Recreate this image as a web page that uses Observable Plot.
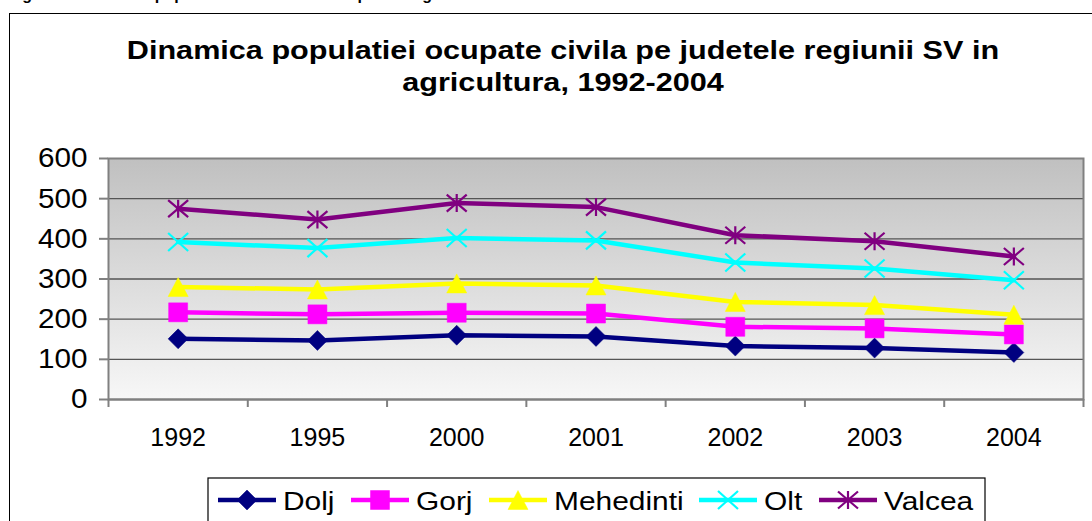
<!DOCTYPE html>
<html><head><meta charset="utf-8">
<script src="https://cdn.jsdelivr.net/npm/d3@7"></script>
<script src="https://cdn.jsdelivr.net/npm/@observablehq/plot@0.6"></script>
<style>
html,body{margin:0;padding:0;background:#fff}
body{width:1092px;height:521px;overflow:hidden;position:relative;font-family:"Liberation Sans",Arial,sans-serif}
#toptext{position:absolute;left:8px;top:-13px;font-weight:bold;font-size:16px;line-height:16px;white-space:nowrap;color:#000}
#frame{position:absolute;left:9px;top:13px;width:1110px;height:530px;border:1.5px solid #000;box-shadow:1px 1px 0 #a0a0a0}
#chart{position:absolute;left:0;top:0}
.abs{position:absolute;left:0;top:0}
</style></head>
<body>
<div id="toptext">Figura 3. Dinamica populatiei active civile ocupate in agricultura</div>
<div id="frame"></div>
<div id="chart"></div>
<svg id="titlesvg" class="abs" width="1092" height="110"></svg>
<svg id="legend" class="abs" width="1092" height="521" style="pointer-events:none"></svg>
<script>
// ---- data ----
const years = ["1992","1995","2000","2001","2002","2003","2004"];
const dolj = [151,147,160,157,133,128,117];
const gorj = [217,212,216,214,181,177,162];
const mehedinti = [280,274,289,284,243,235,211];
const olt = [392,377,402,396,341,326,297];
const valcea = [475,448,489,479,409,394,356];
const seriesNames = ["Dolj","Gorj","Mehedinti","Olt","Valcea"];
const seriesValues = [dolj,gorj,mehedinti,olt,valcea];
const seriesColors = ["#000080","#ff00ff","#ffff00","#00ffff","#800080"];
const yTicks = [0,100,200,300,400,500,600];
const titleLines = ["Dinamica populatiei ocupate civila pe judetele regiunii SV in","agricultura, 1992-2004"];

// ---- symbols ----
const symDiamond = {draw(c,s){const r=Math.sqrt(s/Math.PI);c.moveTo(0,-r);c.lineTo(r,0);c.lineTo(0,r);c.lineTo(-r,0);c.closePath();}};
const symSquare = {draw(c,s){const r=Math.sqrt(s/Math.PI)*0.95;c.moveTo(-r,-r);c.lineTo(r,-r);c.lineTo(r,r);c.lineTo(-r,r);c.closePath();}};
const symTriangle = {draw(c,s){const r=Math.sqrt(s/Math.PI);c.moveTo(0,-r*0.95);c.lineTo(r,r*0.95);c.lineTo(-r,r*0.95);c.closePath();}};
const symTimes = {draw(c,s){const r=Math.sqrt(s/Math.PI);c.moveTo(-r,-r*0.9);c.lineTo(r,r*0.9);c.moveTo(r,-r*0.9);c.lineTo(-r,r*0.9);}};
const symAst = {draw(c,s){const r=Math.sqrt(s/Math.PI);c.moveTo(-r,-r*0.85);c.lineTo(r,r*0.85);c.moveTo(r,-r*0.85);c.lineTo(-r,r*0.85);c.moveTo(0,-r*0.9);c.lineTo(0,r*0.9);}};
const symbols = [symDiamond,symSquare,symTriangle,symTimes,symAst];
const filled = [true,true,true,false,false];

// ---- long table ----
const table = [];
seriesNames.forEach((name,si)=>seriesValues[si].forEach((v,i)=>table.push({series:name,si,i,year:years[i],value:v})));

const boundaries = d3.range(years.length+1).map(k=>k-0.5);
const marks = [
  Plot.frame({fill:"url(#bgGrad)",stroke:"none"}),
  Plot.gridY(yTicks.filter(t=>t>0 && t<600),{stroke:"#555",strokeOpacity:1,strokeWidth:1.4}),
  Plot.frame({stroke:"#808080",strokeWidth:2,fill:"none"}),
  Plot.ruleY([0],{stroke:"#808080",strokeWidth:2}),
  Plot.axisY({ticks:yTicks,tickSize:9,tickPadding:12,fontSize:28,stroke:"#808080",strokeWidth:2,color:"#000",label:null}),
  Plot.axisX({ticks:d3.range(years.length),tickFormat:i=>years[i],tickSize:0,tickPadding:29,fontSize:25,label:null}),
  Plot.axisX({ticks:boundaries,tickFormat:()=>"",tickSize:8,stroke:"#808080",strokeWidth:2,label:null})
];
seriesNames.forEach((name,si)=>{
  const d = table.filter(r=>r.si===si);
  marks.push(Plot.line(d,{x:"i",y:"value",stroke:seriesColors[si],strokeWidth:4.5}));
  marks.push(Plot.dot(d,{x:"i",y:"value",symbol:symbols[si],r:10,
    fill: filled[si]?seriesColors[si]:"none",
    stroke: seriesColors[si], strokeWidth: filled[si]?0.5:2.2}));
});

const chart = Plot.plot({
  width:1092, height:470,
  marginLeft:108, marginRight:9, marginTop:158, marginBottom:71,
  x:{type:"linear",domain:[-0.5,years.length-0.5]},
  y:{domain:[0,600]},
  style:{background:"transparent",fontFamily:"'Liberation Sans',Arial,sans-serif",overflow:"visible"},
  marks
});
document.getElementById("chart").appendChild(chart);
const svgns="http://www.w3.org/2000/svg";
const defs=document.createElementNS(svgns,"defs");
defs.innerHTML='<linearGradient id="bgGrad" x1="0" y1="0" x2="0" y2="1"><stop offset="0" stop-color="#c0c0c0"/><stop offset="1" stop-color="#f7f7f7"/></linearGradient>';
chart.insertBefore(defs,chart.firstChild);

// horizontal stretch helper (the reference's lettering is wider than the installed Arial metric clone)
function stretch(sel, k){
  sel.each(function(){const w=this.getComputedTextLength(); if(w>0){this.setAttribute("textLength",w*k);this.setAttribute("lengthAdjust","spacingAndGlyphs");}});
}
stretch(d3.select(chart).selectAll('g[aria-label="y-axis tick label"] text'),1.06);

// ---- title ----
const tsvg = d3.select("#titlesvg");
const tt = tsvg.selectAll("text").data(titleLines).join("text")
  .attr("x",563).attr("y",(d,i)=>59+i*32)
  .attr("text-anchor","middle")
  .attr("font-family","'Liberation Sans',Arial,sans-serif")
  .attr("font-weight","bold").attr("font-size",25.5)
  .text(d=>d);
stretch(tt,1.2);

// ---- legend ----
const lg = d3.select("#legend");
lg.append("rect").attr("x",208).attr("y",478).attr("width",777).attr("height",60)
  .attr("fill","#fff").attr("stroke","#000").attr("stroke-width",1.2);
const legendLineStart = [218,351,489,699,819];
const ly = 500;
seriesNames.forEach((name,si)=>{
  const x0 = legendLineStart[si];
  lg.append("line").attr("x1",x0).attr("x2",x0+58).attr("y1",ly).attr("y2",ly)
    .attr("stroke",seriesColors[si]).attr("stroke-width",4.5);
  const p = d3.path(); symbols[si].draw(p,100*Math.PI);
  lg.append("path").attr("d",p.toString()).attr("transform",`translate(${x0+29},${ly})`)
    .attr("fill",filled[si]?seriesColors[si]:"none").attr("stroke",seriesColors[si]).attr("stroke-width",filled[si]?0.5:2.2);
  const t = lg.append("text").attr("x",x0+65).attr("y",ly+9.5)
    .attr("font-family","'Liberation Sans',Arial,sans-serif").attr("font-size",26)
    .text(name);
  stretch(t,1.15);
});
</script>
</body></html>
